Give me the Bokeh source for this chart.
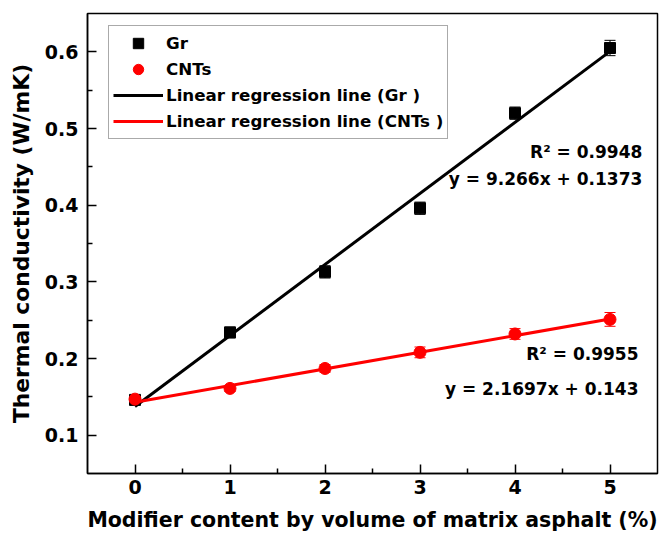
from bokeh.plotting import figure
from bokeh.models import (ColumnDataSource, Whisker, TeeHead, Legend, LegendItem,
                          FixedTicker, Label, Range1d)
from bokeh.embed import file_html
from bokeh.resources import INLINE

# ---- data ----
content = [0, 1, 2, 3, 4, 5]
gr_k = [0.146, 0.234, 0.313, 0.396, 0.520, 0.605]
gr_err = [0.005, 0.007, 0.008, 0.008, 0.008, 0.010]
cnt_k = [0.147, 0.161, 0.187, 0.208, 0.232, 0.251]
cnt_err = [0.004, 0.004, 0.005, 0.007, 0.007, 0.009]

# regression equations as printed (x as volume fraction)
gr_slope, gr_intercept = 9.266, 0.1373
cnt_slope, cnt_intercept = 2.1697, 0.143
fit_x = [0, 5]

x_ticks = [0, 1, 2, 3, 4, 5]
x_minor = [0.5, 1.5, 2.5, 3.5, 4.5]
y_ticks = [0.1, 0.2, 0.3, 0.4, 0.5, 0.6]
y_minor = [0.15, 0.25, 0.35, 0.45, 0.55]

FONT = "DejaVu Sans"

p = figure(width=659, height=534, output_backend="svg", toolbar_location=None,
           x_range=Range1d(-0.5, 5.5), y_range=Range1d(0.05, 0.65),
           min_border_left=87, min_border_right=2, min_border_top=13, min_border_bottom=61)
p.xgrid.visible = False
p.ygrid.visible = False
p.outline_line_color = "black"
p.outline_line_width = 1.5
p.background_fill_color = "white"
p.border_fill_color = "white"

for ax in (p.xaxis[0], p.yaxis[0]):
    ax.axis_line_width = 1.5
    ax.axis_line_color = "black"
    ax.major_tick_line_color = "black"
    ax.minor_tick_line_color = "black"
    ax.major_tick_line_width = 1.5
    ax.minor_tick_line_width = 1.5
    ax.major_tick_in = 9
    ax.major_tick_out = 0
    ax.minor_tick_in = 5
    ax.minor_tick_out = 0
    ax.major_label_text_font = FONT
    ax.major_label_text_font_style = "bold"
    ax.major_label_text_font_size = "19px"
    ax.major_label_text_color = "black"
    ax.axis_label_text_font = FONT
    ax.axis_label_text_font_style = "bold"
    ax.axis_label_text_color = "black"

p.xaxis.ticker = FixedTicker(ticks=x_ticks, minor_ticks=x_minor)
p.yaxis.ticker = FixedTicker(ticks=y_ticks, minor_ticks=y_minor)
p.xaxis.axis_label = "Modifier content by volume of matrix asphalt (%)"
p.yaxis.axis_label = "Thermal conductivity (W/mK)"
p.xaxis.axis_label_text_font_size = "20.5px"
p.yaxis.axis_label_text_font_size = "21.8px"
p.xaxis.major_label_standoff = 6
p.xaxis.axis_label_standoff = 11
p.yaxis.major_label_standoff = 9
p.yaxis.axis_label_standoff = 8

gr_src = ColumnDataSource(dict(x=content, y=gr_k,
                               lo=[v - e for v, e in zip(gr_k, gr_err)],
                               hi=[v + e for v, e in zip(gr_k, gr_err)]))
cnt_src = ColumnDataSource(dict(x=content, y=cnt_k,
                                lo=[v - e for v, e in zip(cnt_k, cnt_err)],
                                hi=[v + e for v, e in zip(cnt_k, cnt_err)]))

gr_fit_y = [gr_intercept + gr_slope * xx / 100 for xx in fit_x]
cnt_fit_y = [cnt_intercept + cnt_slope * xx / 100 for xx in fit_x]

gr_line = p.line(fit_x, gr_fit_y, line_color="black", line_width=3)
gr_w = Whisker(base="x", upper="hi", lower="lo", source=gr_src, line_color="black", line_width=1,
               upper_head=TeeHead(size=11, line_color="black", line_width=1),
               lower_head=TeeHead(size=11, line_color="black", line_width=1))
p.add_layout(gr_w)
gr_pts = p.scatter("x", "y", source=gr_src, marker="square", size=11,
                   fill_color="black", line_color="black")

cnt_line = p.line(fit_x, cnt_fit_y, line_color="red", line_width=3)
cnt_w = Whisker(base="x", upper="hi", lower="lo", source=cnt_src, line_color="red", line_width=1,
                upper_head=TeeHead(size=11, line_color="red", line_width=1),
                lower_head=TeeHead(size=11, line_color="red", line_width=1))
p.add_layout(cnt_w)
cnt_pts = p.scatter("x", "y", source=cnt_src, marker="circle", size=12,
                    fill_color="red", line_color="red")

legend = Legend(items=[
    LegendItem(label="Gr", renderers=[gr_pts]),
    LegendItem(label="CNTs", renderers=[cnt_pts]),
    LegendItem(label="Linear regression line (Gr )", renderers=[gr_line]),
    LegendItem(label="Linear regression line (CNTs )", renderers=[cnt_line]),
], location=(21, 334))
legend.label_text_font = FONT
legend.label_text_font_style = "bold"
legend.label_text_font_size = "16.7px"
legend.label_text_color = "black"
legend.glyph_width = 50
legend.glyph_height = 26
legend.label_height = 26
legend.spacing = 0
legend.padding = 4
legend.margin = 0
legend.label_standoff = 3
legend.border_line_color = "#555555"
legend.border_line_width = 1
legend.background_fill_color = "white"
legend.background_fill_alpha = 1
p.add_layout(legend)

def note(x, y, text):
    p.add_layout(Label(x=x, y=y, text=text, text_align="right", text_baseline="alphabetic",
                       text_font=FONT, text_font_style="bold", text_font_size="17px",
                       text_color="black"))

note(5.34, 0.4687, "R² = 0.9948")
note(5.34, 0.4335, "y = 9.266x + 0.1373")
note(5.30, 0.2057, "R² = 0.9955")
note(5.30, 0.160, "y = 2.1697x + 0.143")

open("out.html", "w").write(file_html(p, INLINE))
